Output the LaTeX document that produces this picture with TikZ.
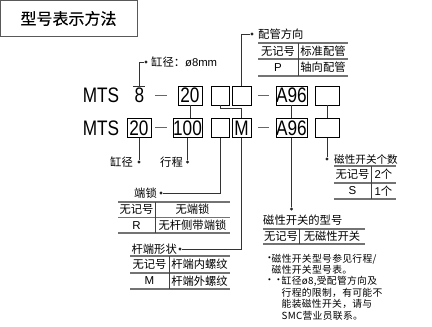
\documentclass[tikz,border=0pt]{standalone}
\usepackage{fontspec}
\setmainfont{Liberation Sans}
\newfontfamily\cjk{Noto Sans CJK SC}
\newfontfamily\cjktitle{Noto Sans CJK SC}[FakeBold=0.5]
\newfontfamily\cjknote{Noto Sans CJK SC}[LetterSpace=3]
\newfontfamily\nar{Liberation Sans}[FakeStretch=0.82]
\begin{document}
\begin{tikzpicture}[x=1pt,y=-1pt,
  big/.style={font=\nar\fontsize{21}{21}\selectfont, inner sep=0pt},
  bx/.style={draw=black, line width=0.9pt, inner sep=0pt, minimum height=19pt, font=\nar\fontsize{21}{21}\selectfont},
  lbl/.style={font=\cjk\fontsize{11.3}{12}\selectfont, inner sep=0pt},
  cell/.style={font=\cjk\fontsize{11.3}{12}\selectfont, inner sep=0pt},
  cellL/.style={font=\fontsize{11.5}{12}\selectfont, inner sep=0pt},
  note/.style={font=\cjknote\fontsize{9.8}{10}\selectfont, inner sep=0pt, anchor=west},
  conn/.style={draw=black!80, line width=1pt},
  rule/.style={draw=black!55, line width=1.5pt},
  sepl/.style={draw=black!75, line width=1pt},
  jdot/.style={circle, fill=black!85, inner sep=0pt, minimum size=3.2pt},
  dashln/.style={draw=black!60, line width=1pt}
]
\useasboundingbox (0,0) rectangle (432,327);
% title
\draw[draw=black!65, line width=1pt] (0.5,0.5) rectangle (137,36);
\node[font=\cjktitle\fontsize{16}{16}\selectfont, inner sep=0pt] (title) at (68.5,18.5) {型号表示方法};

% row 1
\node[big] (mts1) at (101,95.5) {MTS};
\node[big] (n8) at (139.5,95.5) {8};
\node[bx, minimum width=24pt] (a20) at (190,95.5) {20};
\node[bx, minimum width=18pt] (e1) at (220,95.5) {};
\node[bx, minimum width=19pt] (e2) at (241.5,95.5) {};
\node[bx, minimum width=31pt] (s1) at (291.5,95.5) {A96};
\node[bx, minimum width=24pt] (c1) at (327,95.5) {};
\draw[dashln] (155,95.5) -- (167,95.5);
\draw[dashln] (258,95.5) -- (269,95.5);

% row 2
\node[big] (mts2) at (101,128) {MTS};
\node[bx, minimum width=24pt] (b20) at (139,128) {20};
\node[bx, minimum width=29pt] (b100) at (187.5,128) {100};
\node[bx, minimum width=18pt] (e3) at (220,128) {};
\node[bx, minimum width=19pt] (m) at (241.5,128) {M};
\node[bx, minimum width=31pt] (s2) at (291.5,128) {A96};
\node[bx, minimum width=24pt] (c2) at (327,128) {};
\draw[dashln] (155,127.5) -- (167,127.5);
\draw[dashln] (258,127.5) -- (269,127.5);

% dots
\node[jdot] (d1) at (146,62) {};
\node[jdot] (d2) at (252,34) {};
\node[jdot] (d3) at (139,162) {};
\node[jdot] (d4) at (187.5,162) {};
\node[jdot] (d5) at (161,193) {};
\node[jdot] (d6) at (180,249) {};
\node[jdot] (d7) at (291.5,209) {};
\node[jdot] (d8) at (327,159) {};
\coordinate (o8) at (139,86);

% connectors
\draw[conn] (133,86) -- (145,86);
\draw[conn] (o8) |- (d1);
\draw[conn] (a20.south) -- (a20.south |- b100.north);
\draw[conn] (e1.south) -- ++(0,3) -| (m.north);
\draw[conn] (e2.north) |- (d2);
\draw[conn] (s1.south) -- (s2.north);
\draw[conn] (c1.south) -- (c2.north);
\draw[conn] (b20.south) -- (d3);
\draw[conn] (b100.south) -- (d4);
\draw[conn] (e3.south) |- (d5);
\draw[conn] (m.south) |- (d6);
\draw[conn] (s2.south) -- (d7);
\draw[conn] (c2.south) -- (d8);

% labels
\node[lbl, anchor=west] (l1) at (151,62) {缸径：{\rmfamily ø8mm}};
\node[lbl, anchor=west] (l2) at (258,34) {配管方向};
\node[lbl, anchor=east] (l3) at (133,162) {缸径};
\node[lbl, anchor=east] (l4) at (183,162) {行程};
\node[lbl, anchor=east] (l5) at (157,193) {端锁};
\node[lbl, anchor=east] (l6) at (177,249) {杆端形状};
\node[lbl, anchor=west] (l7) at (263,220) {磁性开关的型号};
\node[lbl, anchor=west, font=\cjk\fontsize{10.6}{12}\selectfont] (l8) at (334,159) {磁性开关个数};

% table piping
\draw[rule] (258,43) -- (348,43);
\draw[rule] (258,59) -- (348,59);
\draw[rule] (258,76) -- (348,76);
\draw[sepl] (298,43) -- (298,76);
\node[cell] (p11) at (278,51) {无记号};
\node[cell] (p12) at (323,51) {标准配管};
\node[cellL] (p21) at (278,67.5) {P};
\node[cell] (p22) at (323,67.5) {轴向配管};

% table end lock
\draw[rule] (118,202) -- (230,202);
\draw[rule] (118,217.5) -- (230,217.5);
\draw[rule] (118,233) -- (230,233);
\draw[sepl] (155,202) -- (155,233);
\node[cell] (r11) at (136.5,209.5) {无记号};
\node[cell] (r12) at (192.5,209.5) {无端锁};
\node[cellL] (r21) at (136.5,225.5) {R};
\node[cell] (r22) at (192.5,225.5) {无杆侧带端锁};

% table rod end
\draw[rule] (130,256) -- (230,256);
\draw[rule] (130,273) -- (230,273);
\draw[rule] (130,289) -- (230,289);
\draw[sepl] (169,256) -- (169,289);
\node[cell] (t11) at (149.5,264.5) {无记号};
\node[cell] (t12) at (199.5,264.5) {杆端内螺纹};
\node[cellL] (t21) at (149.5,281) {M};
\node[cell] (t22) at (199.5,281) {杆端外螺纹};

% table switch count
\draw[rule] (334,166) -- (396,166);
\draw[rule] (334,183) -- (396,183);
\draw[rule] (334,199) -- (396,199);
\draw[sepl] (371,166) -- (371,199);
\node[cell] (k11) at (352.5,174.5) {无记号};
\node[cell] (k12) at (383.5,174.5) {{\rmfamily 2}个};
\node[cellL] (k21) at (352.5,191) {S};
\node[cell] (k22) at (383.5,191) {{\rmfamily 1}个};

% table switch type
\draw[rule] (263,229) -- (365,229);
\draw[rule] (263,244) -- (365,244);
\draw[sepl] (299,229) -- (299,244);
\node[cell] (w11) at (281,236.5) {无记号};
\node[cell] (w12) at (332,236.5) {无磁性开关};

% notes
\node[note] (nb1) at (264.5,259) {•};
\node[note] (nt1) at (271.5,259) {磁性开关型号参见行程/};
\node[note] (nt2) at (271.5,270) {磁性开关型号表。};
\node[note] (nb2) at (264.5,281) {•};
\node[note] (nb3) at (273.5,281) {•};
\node[note] (nt3) at (281.5,281) {缸径ø8,受配管方向及};
\node[note] (nt4) at (281.5,292.5) {行程的限制，有可能不};
\node[note] (nt5) at (281.5,304) {能装磁性开关，请与};
\node[note] (nt6) at (281.5,316) {SMC营业员联系。};
\end{tikzpicture}
\end{document}
